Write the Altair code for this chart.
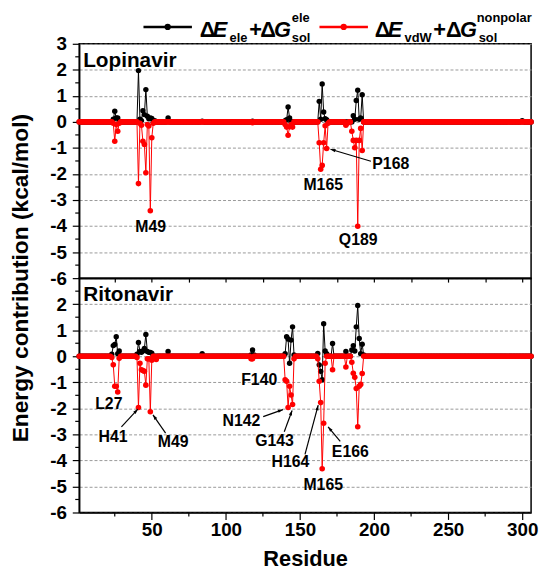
import math
import altair as alt
import pandas as pd

FONT = "Liberation Sans"
N_RES = 306
residues = list(range(1, N_RES + 1))

# ---------------- data (sparse: residues not listed read as ~0) ----------------
lop_ele_res = [24, 25, 26, 27, 41, 42, 43, 44, 45, 46, 47, 48, 49, 50, 52, 61, 84, 118,
               140, 141, 142, 143, 163, 164, 165, 166, 167, 168, 186, 187, 188, 189, 190,
               191, 192, 300]
lop_ele_val = [0.10, 0.41, 0.15, 0.15, 1.97, 0.10, 0.05, 0.43, 0.28, 1.24, 0.22, 0.12, 0.15,
               0.13, 0.05, 0.15, 0.03, 0.03, 0.05, 0.08, 0.57, 0.15, 0.79, 0.10, 1.46, 0.38,
               0.12, 0.08, 0.24, 0.10, 0.82, 1.22, 0.10, 0.15, 1.04, 0.05]

lop_vdw_res = [24, 25, 26, 27, 28, 41, 42, 43, 44, 45, 46, 47, 48, 49, 50, 51, 118, 140, 141,
               142, 143, 144, 145, 163, 164, 165, 166, 167, 168, 169, 181, 182, 185, 186, 187,
               188, 189, 190, 191, 192]
lop_vdw_val = [-0.05, -0.74, -0.10, -0.36, -0.05, -2.37, -0.05, -0.13, -0.74, -0.87, -1.95,
               -0.10, -0.16, -3.41, -0.61, -0.05, -0.03, -0.10, -0.20, -0.51, -0.19, -0.10,
               -0.20, -0.80, -1.82, -1.67, -0.80, -0.15, -1.02, -0.05, -0.13, -0.05, -0.36,
               -0.71, -0.99, -0.71, -4.01, -0.71, -0.25, -1.10]

rit_ele_res = [23, 24, 25, 26, 27, 28, 40, 41, 42, 43, 44, 45, 46, 47, 48, 49, 50, 61, 84,
               117, 118, 119, 140, 141, 142, 143, 144, 145, 146, 162, 163, 164, 165, 166, 167,
               168, 172, 181, 185, 186, 187, 188, 189, 190, 191, 192, 193]
rit_ele_val = [0.08, 0.41, 0.45, 0.75, 0.10, 0.20, 0.08, 0.53, 0.18, 0.15, 0.20, 0.30, 0.84,
               0.18, 0.15, 0.15, 0.12, 0.18, 0.10, 0.05, 0.24, 0.05, 0.10, 0.75, 0.66, -0.27,
               0.62, 1.13, 0.05, 0.11, -0.33, -0.58, -0.90, 1.25, 0.20, 0.10, 0.49, 0.18, 0.24,
               0.41, 0.20, 1.13, 1.95, 0.68, 0.10, 0.46, 0.05]

rit_vdw_res = [23, 24, 25, 26, 27, 28, 40, 41, 42, 43, 44, 45, 46, 47, 48, 49, 50, 53, 117,
               118, 140, 141, 142, 143, 144, 145, 146, 162, 163, 164, 165, 166, 167, 172, 181,
               185, 186, 187, 188, 189, 190, 191, 192]
rit_vdw_val = [-0.05, -0.33, -1.15, -1.15, -1.37, -0.08, -0.05, -1.97, -0.27, -0.52, -0.55,
               -0.58, -1.11, -0.10, -0.10, -2.13, -0.15, -0.12, -0.10, -0.10, -0.90, -0.96,
               -1.97, -1.15, -1.49, -1.85, -0.10, -0.10, -0.96, -1.78, -4.32, -2.57, -0.27,
               -0.52, -0.41, -0.23, -0.65, -0.81, -1.24, -2.71, -1.15, -1.08, -0.66]

# annotation labels (centre of text, in data units)
lop_lab_text = ["M49", "M165", "P168", "Q189"]
lop_lab_x = [49.2, 165.7, 211.3, 189.3]
lop_lab_y = [-4.04, -2.43, -1.62, -4.55]

rit_lab_text = ["L27", "H41", "M49", "F140", "N142", "G143", "H164", "E166", "M165"]
rit_lab_x = [21.0, 23.8, 64.4, 122.5, 110.5, 132.8, 143.6, 184.0, 165.7]
rit_lab_y = [-1.85, -3.10, -3.31, -0.93, -2.47, -3.25, -4.07, -3.69, -4.95]

# arrows: tail (x, y) -> tip (x2, y2), data units
lop_arr = {"x": [197.9], "y": [-1.51], "x2": [170.6], "y2": [-1.05]}
rit_arr = {"x": [29.5, 59.3, 125.2, 139.4, 153.4, 177.2],
           "y": [-2.71, -2.95, -2.32, -2.90, -3.77, -3.27],
           "x2": [40.6, 50.8, 138.5, 144.7, 162.3, 169.0],
           "y2": [-2.03, -2.25, -2.05, -2.08, -1.88, -2.71]}

Y_TITLE = "Energy contribution (kcal/mol)"

# ---------------- layout constants ----------------
W, H = 457, 237
X_DOMAIN = [1, 306]
Y_DOMAIN = [-6, 3]
PX_PER_RES = W / (X_DOMAIN[1] - X_DOMAIN[0])
PX_PER_UNIT = H / (Y_DOMAIN[1] - Y_DOMAIN[0])

X_SCALE = alt.Scale(domain=X_DOMAIN, nice=False, zero=False)
Y_SCALE = alt.Scale(domain=Y_DOMAIN, nice=False, zero=False)
RED = "#ff0000"
one = pd.DataFrame({"k": [0]})


def full_series(res_list, val_list):
    d = dict(zip(res_list, val_list))
    return [d.get(r, 0.0) for r in residues]


def arrow_df(a):
    df = pd.DataFrame(a)
    ang = []
    for x, y, x2, y2 in zip(df.x, df.y, df.x2, df.y2):
        ux = (x2 - x) * PX_PER_RES
        uy = -(y2 - y) * PX_PER_UNIT
        ang.append(math.degrees(math.atan2(ux, -uy)) % 360)
    df["angle"] = ang
    return df


def panel(name, ele_vals, vdw_vals, lab_text, lab_x, lab_y, arr, y_values, bottom, legend):
    df_ele = pd.DataFrame({"residue": residues, "value": ele_vals})
    df_vdw = pd.DataFrame({"residue": residues, "value": vdw_vals})

    if bottom:
        x_axis = alt.Axis(values=[50, 100, 150, 200, 250, 300], title="Residue",
                          tickSize=7, labelPadding=1, labelFontSize=19,
                          titleFontSize=22, titlePadding=10, grid=False)
    else:
        x_axis = alt.Axis(values=list(range(25, 301, 25)), labels=False, title=None,
                          tickSize=4, grid=False)
    y_axis = alt.Axis(values=y_values, title=None, tickSize=7, labelPadding=6,
                      labelFontSize=19, labelExpr="replace(datum.label, '\u2212', '-')",
                      grid=True, gridDash=[3, 2], gridColor="#999999", gridWidth=1)

    def X(field):
        return alt.X(field, scale=X_SCALE, axis=x_axis)

    def Y(field):
        return alt.Y(field, scale=Y_SCALE, axis=y_axis)

    ele = alt.Chart(df_ele).mark_line(
        color="black", strokeWidth=1,
        point=alt.OverlayMarkDef(color="black", filled=True, size=30, opacity=1)
    ).encode(x=X("residue:Q"), y=Y("value:Q"))
    vdw = alt.Chart(df_vdw).mark_line(
        color=RED, strokeWidth=1,
        point=alt.OverlayMarkDef(color=RED, filled=True, size=32, opacity=1)
    ).encode(x=X("residue:Q"), y=Y("value:Q"))

    y_minor = [v + 0.5 for v in range(-6, 3)]
    yminor = alt.Chart(pd.DataFrame({"value": y_minor})).mark_rule(
        color="black", strokeWidth=1.2
    ).encode(y=Y("value:Q"), x=alt.value(0), x2=alt.value(-4))

    layers = [ele, vdw, yminor]

    if bottom:
        xminor = alt.Chart(pd.DataFrame({"residue": [25, 75, 125, 175, 225, 275]})).mark_rule(
            color="black", strokeWidth=1.2
        ).encode(x=X("residue:Q"), y=alt.value(H), y2=alt.value(H + 4))
        layers.append(xminor)

    adf = arrow_df(arr)
    rules = alt.Chart(adf).mark_rule(color="black", strokeWidth=1.2).encode(
        x=X("x:Q"), y=Y("y:Q"), x2="x2:Q", y2="y2:Q")
    heads = alt.Chart(adf).mark_point(
        shape="M0,0L0.55,1.7L-0.55,1.7Z", filled=True, color="black", size=36, opacity=1
    ).encode(x=X("x2:Q"), y=Y("y2:Q"), angle=alt.Angle("angle:Q", scale=None))
    ldf = pd.DataFrame({"x": lab_x, "y": lab_y, "label": lab_text})
    ann = alt.Chart(ldf).mark_text(
        font=FONT, fontSize=16, fontWeight="bold", color="black", align="center",
        baseline="middle"
    ).encode(x=X("x:Q"), y=Y("y:Q"), text="label:N")
    title = alt.Chart(one).mark_text(
        text=name, align="left", baseline="alphabetic", font=FONT, fontSize=21,
        fontWeight="bold", color="black"
    ).encode(x=alt.value(4), y=alt.value(23))
    layers += [rules, heads, ann, title]

    if legend:
        for x0, x1, col in [(65, 114, "black"), (243, 292, RED)]:
            layers.append(alt.Chart(one).mark_rule(color=col, strokeWidth=2.5).encode(
                x=alt.value(x0), x2=alt.value(x1), y=alt.value(-17)))
            layers.append(alt.Chart(one).mark_point(color=col, filled=True, size=40,
                                                    opacity=1).encode(
                x=alt.value((x0 + x1) / 2), y=alt.value(-17)))
        pieces = [
            ("\u0394", 122, -7, 22, "normal"), ("E", 135, -7, 22, "italic"),
            ("ele", 152, -2, 13, "normal"), ("+", 172, -7, 22, "normal"),
            ("\u0394", 183, -7, 22, "normal"), ("G", 197, -7, 22, "italic"),
            ("ele", 215, -22, 13, "normal"), ("sol", 215, -2, 13, "normal"),
            ("\u0394", 299, -7, 22, "normal"), ("E", 312, -7, 22, "italic"),
            ("vdW", 329, -2, 13, "normal"), ("+", 358, -7, 22, "normal"),
            ("\u0394", 371, -7, 22, "normal"), ("G", 385, -7, 22, "italic"),
            ("nonpolar", 402, -22, 13, "normal"), ("sol", 404, -2, 13, "normal"),
        ]
        for txt, px, py, fs, st in pieces:
            layers.append(alt.Chart(one).mark_text(
                text=txt, align="left", baseline="alphabetic", font=FONT, fontSize=fs,
                fontWeight="bold", fontStyle=st, color="black"
            ).encode(x=alt.value(px), y=alt.value(py)))
        # shared y-axis title, centred on the boundary between the two panels
        layers.append(alt.Chart(one).mark_text(
            text=Y_TITLE, angle=270, align="center", baseline="middle", font=FONT,
            fontSize=23, fontWeight="bold", color="black"
        ).encode(x=alt.value(-59), y=alt.value(H)))

    return alt.layer(*layers).properties(width=W, height=H)


top = panel("Lopinavir", full_series(lop_ele_res, lop_ele_val),
            full_series(lop_vdw_res, lop_vdw_val), lop_lab_text, lop_lab_x, lop_lab_y,
            lop_arr, list(range(-6, 4)), bottom=False, legend=True)
bot = panel("Ritonavir", full_series(rit_ele_res, rit_ele_val),
            full_series(rit_vdw_res, rit_vdw_val), rit_lab_text, rit_lab_x, rit_lab_y,
            rit_arr, list(range(-6, 3)), bottom=True, legend=False)

chart = alt.vconcat(top, bot, spacing=0, bounds="flush").properties(
    padding={"left": 1, "top": 0, "right": 0, "bottom": 0},
).configure_view(stroke="black", strokeWidth=1.5).configure_axis(
    domainColor="black", domainWidth=1.5, tickColor="black", tickWidth=1.2,
    labelColor="black", labelFont=FONT, labelFontWeight="bold", titleFont=FONT,
    titleColor="black", titleFontWeight="bold"
)

chart.save("out.html", embed_options={"renderer": "svg", "actions": False})
